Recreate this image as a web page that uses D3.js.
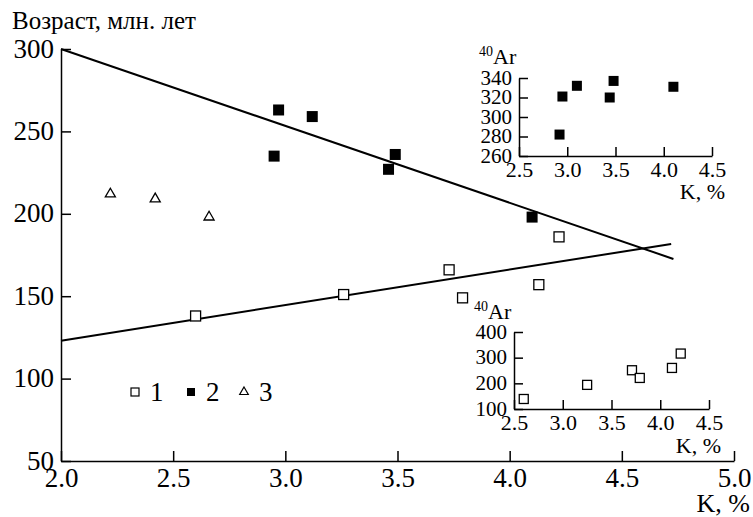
<!DOCTYPE html>
<html lang="ru">
<head>
<meta charset="UTF-8" />
<title>Возраст — K</title>
<style>
  body { margin: 0; background: #fff; }
  svg { display: block; }
  text { font-family: "Liberation Serif", "Times New Roman", serif; fill: #000; }
  .axis path, .axis line { stroke: #000; stroke-width: 1.5px; }
</style>
<script src="https://d3js.org/d3.v7.min.js"></script>
</head>
<body>
<div id="chart"></div>
<script>
// main chart data (K %, age Ma)
const kOpen = [2.60, 3.26, 3.73, 3.79, 4.13, 4.22];
const ageOpen = [138, 151, 166, 149, 157, 186];
const kFilled = [2.95, 2.97, 3.12, 3.46, 3.49, 4.10];
const ageFilled = [235, 263, 259, 227, 236, 198];
const kTri = [2.22, 2.42, 2.66];
const ageTri = [212, 209, 198];

// regression lines, [start, end]
const upperLineK = [2.0, 4.73];
const upperLineAge = [300, 172.6];
const lowerLineK = [2.0, 4.72];
const lowerLineAge = [123, 181.7];

// inset 1: 40Ar for filled squares
const inset1K = [2.92, 2.95, 3.10, 3.44, 3.48, 4.10];
const inset1Ar = [282, 321, 332, 320, 337, 331];
// inset 2: 40Ar for open squares
const inset2K = [2.60, 3.25, 3.71, 3.79, 4.12, 4.21];
const inset2Ar = [139, 194, 251, 221, 260, 316];

const mainXTicks = [2.0, 2.5, 3.0, 3.5, 4.0, 4.5, 5.0];
const mainYTicks = [50, 100, 150, 200, 250, 300];
const insetXTicks = [2.5, 3.0, 3.5, 4.0, 4.5];
const inset1YTicks = [260, 280, 300, 320, 340];
const inset2YTicks = [100, 200, 300, 400];

const serif = '"Liberation Serif", "Times New Roman", serif';
const width = 753, height = 517;
const svg = d3.select("#chart").append("svg")
  .attr("width", width).attr("height", height);

const fmt1 = d3.format(".1f");

function square(g, xs, ys, x, y, size, filled) {
  g.selectAll(null).data(xs).join("rect")
    .attr("x", (d, i) => x(d) - size / 2)
    .attr("y", (d, i) => y(ys[i]) - size / 2)
    .attr("width", size).attr("height", size)
    .attr("fill", filled ? "#000" : "#fff")
    .attr("stroke", "#000")
    .attr("stroke-width", filled ? 0 : 1.3);
}

function drawAxes(g, x, y, xTicks, yTicks, tick, xSize, ySize, xPad) {
  const ax = g.append("g").attr("class", "axis")
    .attr("transform", `translate(0,${y.range()[0]})`)
    .call(d3.axisBottom(x).tickValues(xTicks).tickFormat(fmt1)
      .tickSizeInner(-tick).tickSizeOuter(0).tickPadding(xPad));
  ax.attr("font-family", null);
  ax.selectAll("text").style("font-family", serif)
    .attr("font-size", xSize).attr("dy", "0.78em");
  const ay = g.append("g").attr("class", "axis")
    .attr("transform", `translate(${x.range()[0]},0)`)
    .call(d3.axisLeft(y).tickValues(yTicks).tickFormat(d3.format("d"))
      .tickSizeInner(-tick).tickSizeOuter(0).tickPadding(7));
  ay.attr("font-family", null);
  ay.selectAll("text").style("font-family", serif)
    .attr("font-size", ySize).attr("dy", "0.3em");
}

// ---- main chart ----
const x = d3.scaleLinear().domain([2, 5]).range([61, 734]);
const y = d3.scaleLinear().domain([50, 300]).range([461, 49]);
const main = svg.append("g");
drawAxes(main, x, y, mainXTicks, mainYTicks, 10, 27, 27, 5);

main.append("text").attr("x", 12).attr("y", 29).attr("font-size", 25)
  .text("Возраст, млн. лет");
main.append("text").attr("x", 750).attr("y", 512).attr("font-size", 26)
  .attr("text-anchor", "end").text("K, %");

const line = d3.line().x(d => x(d[0])).y(d => y(d[1]));
[[upperLineK, upperLineAge], [lowerLineK, lowerLineAge]].forEach(([ks, as]) => {
  main.append("path").datum(ks.map((k, i) => [k, as[i]]))
    .attr("d", line).attr("fill", "none")
    .attr("stroke", "#000").attr("stroke-width", 2);
});

square(main, kOpen, ageOpen, x, y, 10, false);
square(main, kFilled, ageFilled, x, y, 11, true);
const tri = d3.symbol().type(d3.symbolTriangle).size(44);
main.selectAll(null).data(kTri).join("path")
  .attr("transform", (d, i) => `translate(${x(d)},${y(ageTri[i])})`)
  .attr("d", tri).attr("fill", "#fff").attr("stroke", "#000").attr("stroke-width", 1.3);

// legend
const legend = main.append("g");
const legendItems = ["1", "2", "3"];
const legendX = [135, 191, 244];
legendItems.forEach((lab, i) => {
  const cx = legendX[i], cy = 392;
  if (i === 2) {
    legend.append("path").attr("transform", `translate(${cx},${cy})`)
      .attr("d", d3.symbol().type(d3.symbolTriangle).size(32))
      .attr("fill", "#fff").attr("stroke", "#000").attr("stroke-width", 1.2);
  } else {
    legend.append("rect").attr("x", cx - 4).attr("y", cy - 4)
      .attr("width", 8).attr("height", 8)
      .attr("fill", i === 1 ? "#000" : "#fff")
      .attr("stroke", "#000").attr("stroke-width", i === 1 ? 0 : 1.2);
  }
  legend.append("text").attr("x", cx + 15).attr("y", 401)
    .attr("font-size", 27).text(lab);
});

// ---- insets ----
function inset(xr, yDom, yr, yTicks, ks, ars, filled, arY, kLabelPos) {
  const ix = d3.scaleLinear().domain([2.5, 4.5]).range(xr);
  const iy = d3.scaleLinear().domain(yDom).range(yr);
  const g = svg.append("g");
  drawAxes(g, ix, iy, insetXTicks, yTicks, 9, 22, 21, 4);
  square(g, ks, ars, ix, iy, filled ? 10 : 9, filled);
  const t = g.append("text").attr("x", xr[0] - 40).attr("y", arY).attr("font-size", 22);
  t.append("tspan").attr("font-size", 14).attr("dy", -8).text("40");
  t.append("tspan").attr("dy", 8).text("Ar");
  g.append("text").attr("x", kLabelPos[0]).attr("y", kLabelPos[1])
    .attr("font-size", 22).attr("text-anchor", "end").text("K, %");
}
inset([519, 712], [260, 340], [156, 78], inset1YTicks, inset1K, inset1Ar, true, 64, [725, 199]);
inset([514, 709], [100, 400], [409, 332], inset2YTicks, inset2K, inset2Ar, false, 319, [721, 453]);
</script>
</body>
</html>
